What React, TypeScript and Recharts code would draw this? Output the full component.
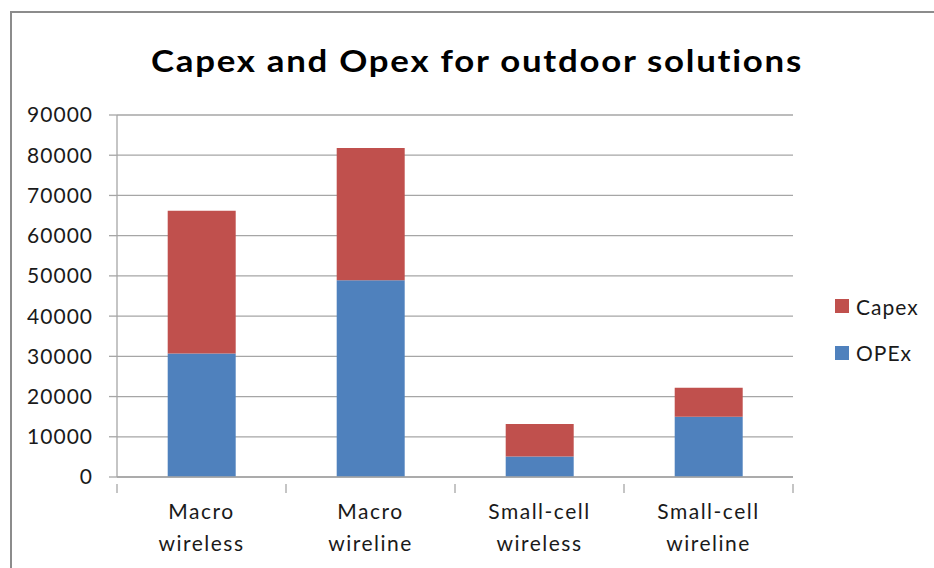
import React from 'react';
import { BarChart, Bar, XAxis, YAxis, CartesianGrid } from 'recharts';

const categories = [
  ['Macro', 'wireless'],
  ['Macro', 'wireline'],
  ['Small-cell', 'wireless'],
  ['Small-cell', 'wireline'],
];
const opexValues = [30700, 48900, 5100, 15000];
const capexValues = [35500, 32900, 8100, 7200];
const yTicks = [0, 10000, 20000, 30000, 40000, 50000, 60000, 70000, 80000, 90000];

const BLUE = '#4F81BD';
const RED = '#C0504D';
const GRID = '#a6a6a6';
const FONT = 'Lato, "Open Sans", sans-serif';

const data = categories.map((c, i) => ({
  name: c.join(' '),
  lines: c,
  OPEx: opexValues[i],
  Capex: capexValues[i],
}));

const CategoryTick = (props: any) => {
  const { x, y, payload, index, visibleTicksCount } = props;
  const half = payload.offset ?? 0;
  const lines: string[] = data[index]?.lines ?? [String(payload.value)];
  const isLast = index === visibleTicksCount - 1;
  return (
    <g>
      <line x1={x - half} x2={x - half} y1={y - 1} y2={y + 8} stroke={GRID} strokeWidth={1.3} />
      {isLast && (
        <line x1={x + half} x2={x + half} y1={y - 1} y2={y + 8} stroke={GRID} strokeWidth={1.3} />
      )}
      <text
        x={x}
        y={y + 34}
        textAnchor="middle"
        fontFamily={FONT}
        fontSize={21}
        letterSpacing={1.5}
        fill="#1a1a1a"
      >
        {lines.map((l, i) => (
          <tspan key={i} x={x} dy={i === 0 ? 0 : 31.5}>
            {l}
          </tspan>
        ))}
      </text>
    </g>
  );
};

const legendItems = [
  { label: 'Capex', color: RED },
  { label: 'OPEx', color: BLUE },
];

export default function App() {
  return (
    <div style={{ position: 'absolute', left: 0, top: 0, width: 934, height: 568, background: '#fff', overflow: 'hidden' }}>
      <div
        style={{
          position: 'absolute',
          left: 10,
          top: 11,
          width: 940,
          height: 580,
          borderLeft: '2px solid #8c8c8c',
          borderTop: '2px solid #8c8c8c',
        }}
      />
      <div
        style={{
          position: 'absolute',
          left: 0,
          top: 38,
          width: 954,
          textAlign: 'center',
          fontFamily: FONT,
          fontWeight: 700,
          fontSize: 30,
          letterSpacing: '1.5px',
          color: '#000',
          lineHeight: '44px',
          transform: 'scaleX(1.16)',
          transformOrigin: '477px 0',
        }}
      >
        Capex and Opex for outdoor solutions
      </div>
      <div style={{ position: 'absolute', left: 0, top: 0 }}>
        <BarChart
          width={934}
          height={568}
          data={data}
          margin={{ top: 115, right: 141, bottom: 0, left: 0 }}
          barCategoryGap="30%"
        >
          <CartesianGrid vertical={false} stroke={GRID} strokeWidth={1.3} />
          <XAxis
            dataKey="name"
            height={91}
            axisLine={{ stroke: GRID, strokeWidth: 1.3 }}
            tickLine={false}
            tick={<CategoryTick />}
            interval={0}
          />
          <YAxis
            width={117}
            domain={[0, 90000]}
            ticks={yTicks}
            interval={0}
            axisLine={{ stroke: GRID, strokeWidth: 1.3 }}
            tickLine={{ stroke: GRID, strokeWidth: 1.3 }}
            tickSize={8}
            tickMargin={16}
            tick={{ fontFamily: FONT, fontSize: 21, fill: '#1a1a1a', letterSpacing: 1 }}
          />
          <Bar dataKey="OPEx" stackId="a" fill={BLUE} isAnimationActive={false} />
          <Bar dataKey="Capex" stackId="a" fill={RED} isAnimationActive={false} />
        </BarChart>
      </div>
      <div style={{ position: 'absolute', left: 835, top: 283, fontFamily: FONT, fontSize: 21, letterSpacing: '1px', color: '#1a1a1a' }}>
        {legendItems.map((it) => (
          <div key={it.label} style={{ display: 'flex', alignItems: 'center', height: 46.5 }}>
            <span style={{ display: 'inline-block', width: 14, height: 14, background: it.color, marginRight: 7 }} />
            <span>{it.label}</span>
          </div>
        ))}
      </div>
    </div>
  );
}
